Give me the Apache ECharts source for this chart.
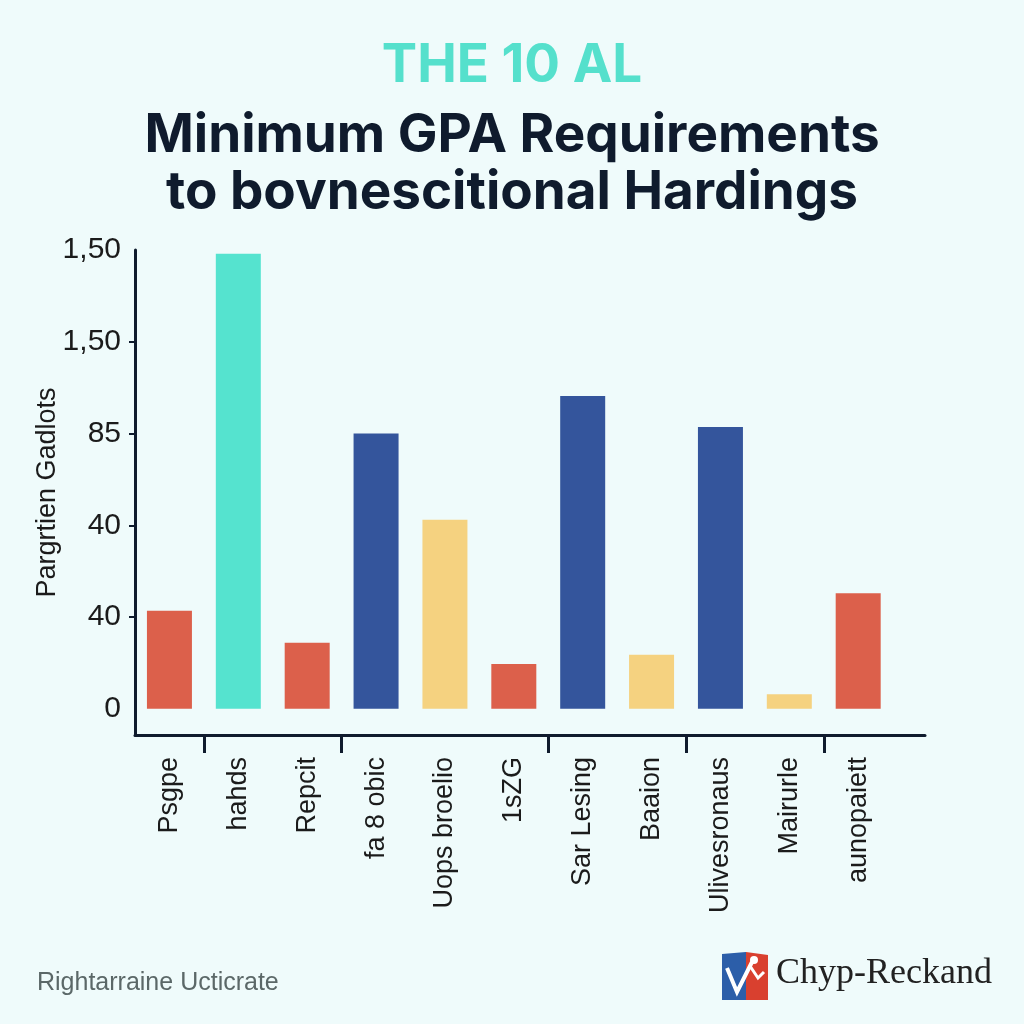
<!DOCTYPE html>
<html><head><meta charset="utf-8">
<script src="https://cdn.jsdelivr.net/npm/echarts@6/dist/echarts.min.js"></script>
<style>html,body{margin:0;padding:0;background:#effbfb}#c{width:1024px;height:1024px}</style>
</head><body><div id="c"></div>
<script>
// ---- data ----
const categories = ['Psgpe','hahds','Repcit','fa 8 obic','Uops broelio','1sZG','Sar Lesing','Baaion','Ulivesronaus','Mairurle','aunopaiett'];
const yTickValues = [0, 1, 2, 3, 4, 5];
const yTickLabels = ['0', '40', '40', '85', '1,50', '1,50'];
const redValues    = [1.07, null, 0.72, null, null, 0.49, null, null, null, null, 1.26];
const tealValues   = [null, 4.96, null, null, null, null, null, null, null, null, null];
const navyValues   = [null, null, null, 3.00, null, null, 3.41, null, 3.07, null, null];
const yellowValues = [null, null, null, null, 2.06, null, null, 0.59, null, 0.16, null];
// x-axis tick marks sit between these category pairs (index of the category on the left + 0.5)
const xTickBetween = [0, 2, 5, 7, 9];

const titleTop = 'THE 10 AL';
const titleMain = ['Minimum GPA Requirements', 'to bovnescitional Hardings'];
const yAxisName = 'Pargrtien Gadlots';
const footerText = 'Rightarraine Ucticrate';
const logoText = 'Chyp-Reckand';

// ---- chart ----
const chart = echarts.init(document.getElementById('c'), null, {renderer: 'canvas'});
const ink = '#0f1b2d';
const catIdx = categories.map((_, i) => i);
const barSeries = (name, values, color) => ({
  name, type: 'bar',
  data: values.map((v, i) => [i, v]).filter(d => d[1] !== null),
  barWidth: 45, barGap: '-100%',
  itemStyle: {color}, emphasis: {disabled: true}
});

chart.setOption({
  backgroundColor: '#effbfb',
  animation: false,
  grid: {left: 135, right: 99, top: 250, bottom: 289, containLabel: false},
  xAxis: {
    type: 'value', min: -0.5, max: 10.97,
    splitLine: {show: false},
    axisLine: {onZero: false, lineStyle: {color: ink, width: 3}},
    axisTick: {
      show: true, length: 18, lineStyle: {color: ink, width: 3},
      customValues: xTickBetween.map(i => i + 0.5)
    },
    axisLabel: {
      customValues: catIdx, rotate: 90, margin: 22,
      formatter: (v) => categories[Math.round(v)],
      fontFamily: 'Liberation Sans', fontSize: 27, color: '#1b1b1b'
    }
  },
  yAxis: {
    type: 'value', min: -0.285, max: 5,
    splitLine: {show: false},
    axisLine: {show: true, onZero: false, lineStyle: {color: ink, width: 3}},
    axisTick: {show: true, length: 6, inside: false, customValues: yTickValues.slice(1, 5),
      lineStyle: {color: ink, width: 2}},
    axisLabel: {
      customValues: yTickValues, margin: 14,
      fontFamily: 'Liberation Sans', fontSize: 30, color: '#1b1b1b',
      formatter: (v) => yTickLabels[Math.round(v)]
    },
    name: yAxisName, nameLocation: 'middle', nameGap: 74, nameRotate: 90, nameMoveOverlap: false,
    nameTextStyle: {fontFamily: 'Liberation Sans', fontSize: 27, color: '#1b1b1b'}
  },
  series: [
    barSeries('red', redValues, '#dc604b'),
    barSeries('teal', tealValues, '#55e3cf'),
    barSeries('navy', navyValues, '#34559c'),
    barSeries('yellow', yellowValues, '#f5d280')
  ],
  graphic: [
    {type: 'text', style: {text: titleTop, x: 512, y: 66, textAlign: 'center', textVerticalAlign: 'middle',
      fontFamily: 'Inter', fontWeight: 'bold', fontSize: 53, fill: '#55e0cc'}},
    {type: 'text', style: {text: titleMain[0], x: 512, y: 136, textAlign: 'center', textVerticalAlign: 'middle',
      fontFamily: 'Inter', fontWeight: 'bold', fontSize: 53, fill: ink}},
    {type: 'text', style: {text: titleMain[1], x: 512, y: 193, textAlign: 'center', textVerticalAlign: 'middle',
      fontFamily: 'Inter', fontWeight: 'bold', fontSize: 53, fill: ink}},
    {type: 'text', style: {text: footerText, x: 37, y: 983, textAlign: 'left', textVerticalAlign: 'middle',
      fontFamily: 'Liberation Sans', fontSize: 25, fill: '#5b6868'}},
    {type: 'polygon', shape: {points: [[722, 954], [746, 952], [746, 1000], [722, 1000]]}, style: {fill: '#2c5ea9'}},
    {type: 'polygon', shape: {points: [[746, 952], [768, 955], [768, 1000], [746, 1000]]}, style: {fill: '#d9402f'}},
    {type: 'polyline', shape: {points: [[727, 968], [737, 992], [752, 962]]}, style: {stroke: '#ffffff', lineWidth: 4, fill: null}},
    {type: 'circle', shape: {cx: 754, cy: 960, r: 4}, style: {fill: '#ffffff'}},
    {type: 'polyline', shape: {points: [[750, 966], [758, 978], [764, 972]]}, style: {stroke: '#ffffff', lineWidth: 3, fill: null}},
    {type: 'text', style: {text: logoText, x: 776, y: 974, textAlign: 'left', textVerticalAlign: 'middle',
      fontFamily: 'Liberation Serif', fontSize: 36, fill: '#222222'}}
  ]
});
</script>
</body></html>
